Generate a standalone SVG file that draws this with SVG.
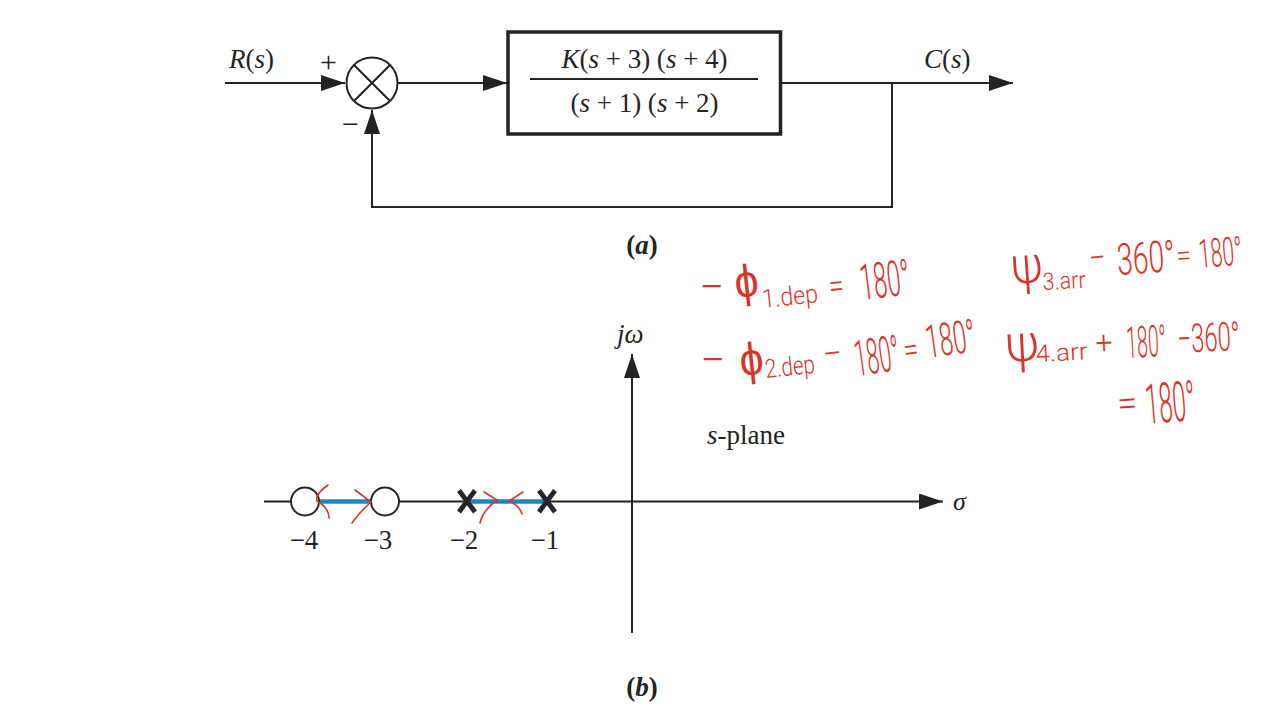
<svg xmlns="http://www.w3.org/2000/svg" width="1261" height="708" viewBox="0 0 1261 708">
<style>
.w{fill:none;stroke:#232323;stroke-width:2}
.t{font-family:"Liberation Serif","Times New Roman",serif;fill:#232323;font-size:27px}
.i{font-style:italic}
.b{font-weight:bold}
.h{font-family:Roboto,"Liberation Sans",sans-serif;fill:#d8352a;font-weight:300}
.r{fill:none;stroke:#d8352a;stroke-width:1.6;stroke-linecap:round}
.root{fill:none;stroke:#1f86c0;stroke-width:4.5}
.node{fill:#fff;stroke:#232323;stroke-width:2}
.x{fill:none;stroke:#23262b;stroke-width:4.8}
</style>
<defs>
<marker id="a" markerUnits="userSpaceOnUse" markerWidth="26" markerHeight="16" refX="24" refY="8" orient="auto"><path d="M0 0L24 8L0 16Z" fill="#232323"/></marker>
</defs>
<rect width="1261" height="708" fill="#fff"/>
<g id="connectors">
<path class="w" d="M225 83H345" marker-end="url(#a)"/>
<path class="w" d="M398 83H507" marker-end="url(#a)"/>
<path class="w" d="M781 83H1013" marker-end="url(#a)"/>
<path class="w" d="M892 83V207H372V110" marker-end="url(#a)"/>
<path class="w" d="M264 501.500H943" marker-end="url(#a)"/>
<path class="w" d="M632 633V354" marker-end="url(#a)"/>
<path class="root" d="M320 501.500H371M467 501.500H547"/>
</g>
<g id="summing"><circle class="node" cx="372" cy="83" r="25.500"/><path class="w" d="M354 65L390 101M390 65L354 101"/></g>
<g id="block">
<rect x="508" y="32" width="272.500" height="102" fill="#fff" stroke="#232323" stroke-width="3.500"/>
<path class="w" d="M530 79H758"/>
<text class="t" x="644.500" y="68" text-anchor="middle"><tspan class="i">K</tspan>(<tspan class="i">s</tspan> + 3) (<tspan class="i">s</tspan> + 4)</text>
<text class="t" x="644.500" y="112" text-anchor="middle">(<tspan class="i">s</tspan> + 1) (<tspan class="i">s</tspan> + 2)</text>
</g>
<g id="labels-a">
<text class="t" x="229" y="68"><tspan class="i">R</tspan>(<tspan class="i">s</tspan>)</text>
<text class="t" x="320" y="72" style="font-size:30px">+</text>
<text class="t" x="342" y="134" style="font-size:30px">−</text>
<text class="t" x="924" y="68"><tspan class="i">C</tspan>(<tspan class="i">s</tspan>)</text>
<text class="t b" x="642" y="254" text-anchor="middle">(<tspan class="i">a</tspan>)</text>
</g>
<g id="zero-4"><circle class="node" cx="305" cy="501.500" r="14"/></g>
<g id="zero-3"><circle class="node" cx="385" cy="501.500" r="14"/></g>
<g id="pole-2"><path class="x" d="M459 490.500L475 512M475 490.500L459 512"/></g>
<g id="pole-1"><path class="x" d="M539 490.500L555 512M555 490.500L539 512"/></g>
<g id="labels-b">
<text class="t" x="304" y="549" text-anchor="middle">−4</text>
<text class="t" x="378" y="549" text-anchor="middle">−3</text>
<text class="t" x="464" y="549" text-anchor="middle">−2</text>
<text class="t" x="545" y="549" text-anchor="middle">−1</text>
<text class="t i" x="617" y="343">jω</text>
<text class="t" x="707" y="444"><tspan class="i">s</tspan>-plane</text>
<text class="t i" x="953" y="510" style="font-size:26px">σ</text>
<text class="t b" x="642" y="696" text-anchor="middle">(<tspan class="i">b</tspan>)</text>
</g>
<g id="locus-arrows">
<path class="r" d="M328 485Q315 494 317 501Q329 508 329 518"/>
<path class="r" d="M355 490L371 502Q358 514 352 523"/>
<path class="r" d="M484 492L497 500Q483 510 480 523"/>
<path class="r" d="M523 492L509 501Q520 506 522 514"/>
</g>
<g id="annotations">
<g id="eq1">
<text class="h" x="699" y="302" font-size="44">−</text>
<text class="h" transform="translate(736 298) rotate(-6)" font-size="46" textLength="24" lengthAdjust="spacingAndGlyphs">ϕ</text>
<text class="h" transform="translate(763 308) rotate(-6)" font-size="26" textLength="56" lengthAdjust="spacingAndGlyphs">1.dep</text>
<text class="h" transform="translate(830 298) rotate(-6)" font-size="34" textLength="15" lengthAdjust="spacingAndGlyphs">=</text>
<text class="h" transform="translate(862 300) rotate(-7)" font-size="50" textLength="50" lengthAdjust="spacingAndGlyphs">180°</text>
</g>
<g id="eq2">
<text class="h" x="700" y="375" font-size="44">−</text>
<text class="h" transform="translate(741 376) rotate(-6)" font-size="46" textLength="24" lengthAdjust="spacingAndGlyphs">ϕ</text>
<text class="h" transform="translate(766 378) rotate(-6)" font-size="26" textLength="50" lengthAdjust="spacingAndGlyphs">2.dep</text>
<text class="h" transform="translate(824 366) rotate(-6)" font-size="34" textLength="19" lengthAdjust="spacingAndGlyphs">−</text>
<text class="h" transform="translate(857 376) rotate(-8)" font-size="50" textLength="45" lengthAdjust="spacingAndGlyphs">180°</text>
<text class="h" transform="translate(905 362) rotate(-8)" font-size="34" textLength="15" lengthAdjust="spacingAndGlyphs">=</text>
<text class="h" transform="translate(928 358) rotate(-8)" font-size="46" textLength="50" lengthAdjust="spacingAndGlyphs">180°</text>
</g>
<g id="eq3">
<text class="h" transform="translate(1012 284) rotate(-4)" font-size="52" textLength="32" lengthAdjust="spacingAndGlyphs">ψ</text>
<text class="h" transform="translate(1043 290) rotate(-3)" font-size="24" textLength="43" lengthAdjust="spacingAndGlyphs">3.arr</text>
<text class="h" transform="translate(1090 270) rotate(-6)" font-size="34" textLength="17" lengthAdjust="spacingAndGlyphs">−</text>
<text class="h" transform="translate(1118 275) rotate(-4)" font-size="44" textLength="58" lengthAdjust="spacingAndGlyphs">360°</text>
<text class="h" transform="translate(1177 266) rotate(-4)" font-size="30" textLength="15" lengthAdjust="spacingAndGlyphs">=</text>
<text class="h" transform="translate(1200 268) rotate(-5) scale(.53 1)" font-size="40">180°</text>
</g>
<g id="eq4">
<text class="h" transform="translate(1006 362) rotate(-3)" font-size="52" textLength="34" lengthAdjust="spacingAndGlyphs">ψ</text>
<text class="h" transform="translate(1036 362) rotate(-3)" font-size="24" textLength="52" lengthAdjust="spacingAndGlyphs">4.arr</text>
<text class="h" transform="translate(1096 354) rotate(-3)" font-size="32" textLength="17" lengthAdjust="spacingAndGlyphs">+</text>
<text class="h" transform="translate(1127 358) rotate(-3)" font-size="44" textLength="40" lengthAdjust="spacingAndGlyphs">180°</text>
<text class="h" transform="translate(1178 353) rotate(-3) scale(.6 1)" font-size="40">−360°</text>
</g>
<g id="eq5">
<text class="h" transform="translate(1118 416) rotate(-4)" font-size="36" textLength="20" lengthAdjust="spacingAndGlyphs">=</text>
<text class="h" transform="translate(1147 424) rotate(-5)" font-size="56" textLength="50" lengthAdjust="spacingAndGlyphs">180°</text>
</g>
</g>
</svg>
